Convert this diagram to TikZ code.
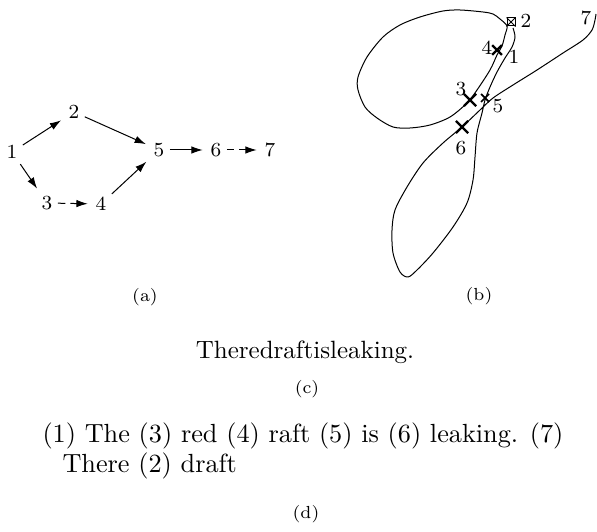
\documentclass[tikz,border=0pt]{standalone}
\usetikzlibrary{arrows.meta, positioning, shapes.misc}

\begin{document}
\begin{tikzpicture}[
    x=0.4pt, y=-0.4pt,
    num/.style={font=\footnotesize, inner sep=2pt},
    lbl/.style={font=\footnotesize, inner sep=0pt},
    captext/.style={font=\scriptsize, inner sep=0pt},
    arrow/.style={-{Latex[length=4.5pt, width=3pt]}, thin, shorten >=1pt},
    dasharrow/.style={arrow, dash pattern=on 3pt off 2pt},
    track/.style={thin, line join=round},
    xmark/.style={cross out, draw, line width=0.9pt, minimum size=4pt, inner sep=0pt}
]
\useasboundingbox (0,0) rectangle (597,531);

% (a) word graph
\node[num] (n1) at (12,152)  {1};
\node[num] (n2) at (74,112)  {2};
\node[num] (n3) at (47,203)  {3};
\node[num] (n4) at (101,204) {4};
\node[num] (n5) at (159,150) {5};
\node[num] (n6) at (216,150) {6};
\node[num] (n7) at (270,150) {7};

\draw[arrow]     (n1) -- (n2);
\draw[arrow]     (n2) -- (n5);
\draw[arrow]     (n1) -- (n3);
\draw[dasharrow] (n3) -- (n4);
\draw[arrow]     (n4) -- (n5);
\draw[arrow]     (n5) -- (n6);
\draw[dasharrow] (n6) -- (n7);

\node[captext] (capa) at (145,297) {(a)};

% (b) pen trajectory
\draw[track] plot[smooth cycle] coordinates {
  (507,26) (500,19) (493,14) (483,12) (460,10) (443,11) (420,17) (400,25)
  (383,37) (367,57) (358,77) (358,90) (365,107) (377,118) (393,127) (410,128)
  (430,125) (450,117) (467,103) (477,90) (490,70) (497,55) (502,46) (505,35)};
\draw[track] plot[smooth] coordinates {
  (513,28) (515,37) (512,47) (505,58) (497,72) (490,87) (485,100) (482,113)
  (477,133) (475,157) (473,180) (467,203) (453,227) (433,253) (417,270) (408,277)
  (400,272) (393,253) (392,230) (395,210) (407,187) (423,163) (443,143) (462,127)
  (480,110) (493,98) (513,85) (537,70) (563,53) (583,40) (592,30) (595,20) (596,14)};

\node[draw, minimum size=3.2pt, inner sep=0pt, fill=white] (pen) at (511,22) {};
\draw (pen.north west) -- (pen.south east) (pen.north east) -- (pen.south west);

\node[xmark] (x3) at (470,100) {};
\node[xmark, minimum size=3pt] (x4) at (497,50) {};
\node[xmark, minimum size=2.5pt, line width=0.7pt] (x5) at (485,98) {};
\node[xmark] (x6) at (462,127) {};

\node[lbl] (b2) at (526,21)  {2};
\node[lbl] (b7) at (586,18)  {7};
\node[lbl] (b4) at (487,48)  {4};
\node[lbl] (b1) at (514,57)  {1};
\node[lbl] (b3) at (461,89)  {3};
\node[lbl] (b5) at (498,106) {5};
\node[lbl] (b6) at (461,148) {6};

\node[captext] (capb) at (479,296) {(b)};

% (c) and (d)
\node[inner sep=0pt] (joined) at (305,352) {Theredraftisleaking.};
\node[captext] (capc) at (307,389) {(c)};

\node[anchor=west, align=left, inner sep=0pt, font=\fontsize{10.5pt}{11.8pt}\selectfont] (split) at (42,451)
  {(1) The (3) red (4) raft (5) is (6) leaking. (7)\\\hspace*{8pt}There (2) draft};
\node[captext] (capd) at (306,514) {(d)};

\end{tikzpicture}
\end{document}
